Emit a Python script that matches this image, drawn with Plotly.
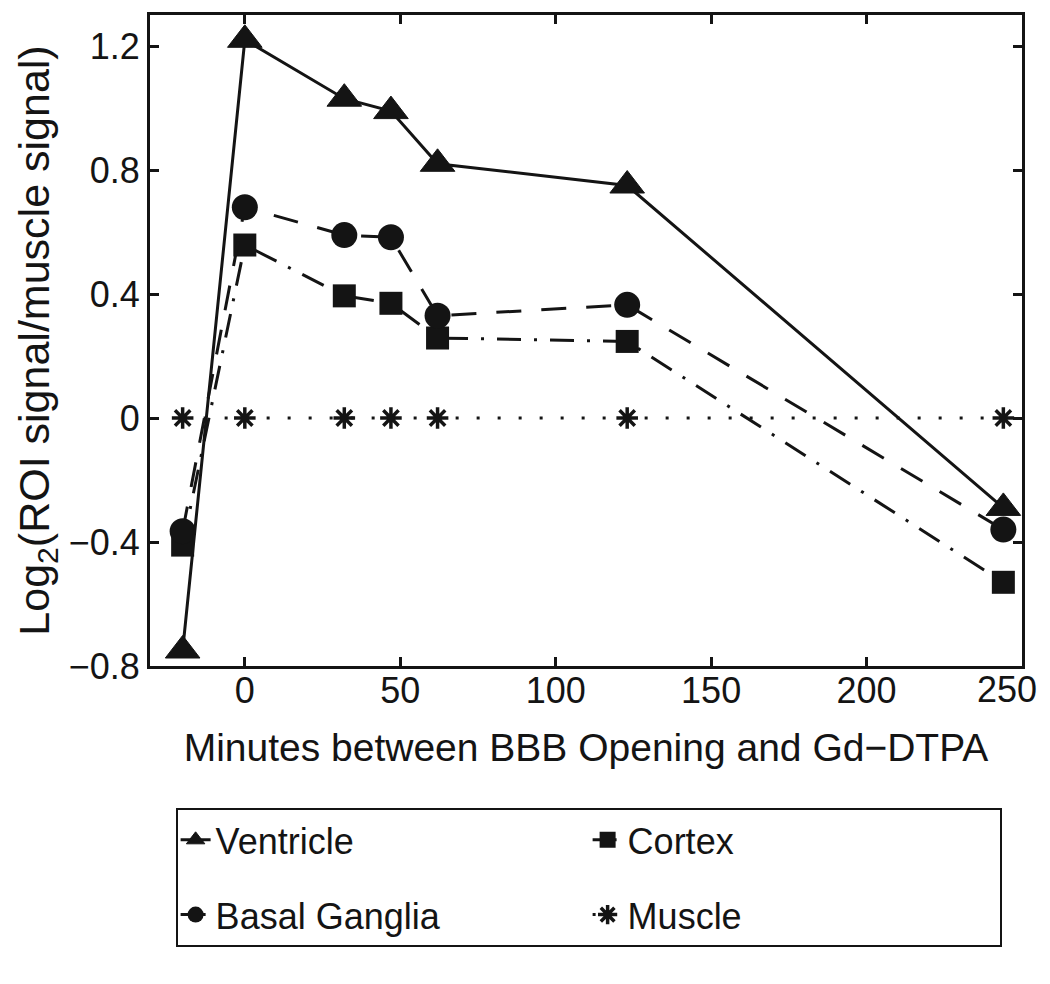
import plotly.graph_objects as go

minutes = [-20, 0, 32, 47, 62, 123, 244]
ventricle = [-0.75, 1.22, 1.03, 0.99, 0.82, 0.75, -0.29]
basal_ganglia = [-0.365, 0.68, 0.59, 0.583, 0.33, 0.365, -0.36]
cortex = [-0.41, 0.558, 0.394, 0.37, 0.258, 0.247, -0.53]
muscle = [0, 0, 0, 0, 0, 0, 0]

x_ticks = [0, 50, 100, 150, 200, 250]
x_tick_text = ["0", "50", "100", "150", "200", ""]
last_x_tick_label = "250"
y_ticks = [-0.8, -0.4, 0, 0.4, 0.8, 1.2]

INK = "#141414"
FONT = "Liberation Sans, Arial, Helvetica, sans-serif"

fig = go.Figure()

fig.add_trace(go.Scatter(
    x=minutes, y=muscle, name="Muscle", mode="lines+markers",
    legendrank=4, legendgroup="g4",
    line=dict(color=INK, width=3, dash="3px,18px"),
    marker=dict(symbol="asterisk-open", size=18, color=INK, line=dict(color=INK, width=3.5)),
))
fig.add_trace(go.Scatter(
    x=minutes, y=cortex, name="Cortex", mode="lines+markers",
    legendrank=2, legendgroup="g2",
    line=dict(color=INK, width=3, dash="24px,13px,3px,13px"),
    marker=dict(symbol="square", size=23, color=INK),
))
fig.add_trace(go.Scatter(
    x=minutes, y=basal_ganglia, name="Basal Ganglia", mode="lines+markers",
    legendrank=3, legendgroup="g3",
    line=dict(color=INK, width=3, dash="25px,20px"),
    marker=dict(symbol="circle", size=26, color=INK),
))
fig.add_trace(go.Scatter(
    x=minutes, y=ventricle, name="Ventricle", mode="lines+markers",
    legendrank=1, legendgroup="g1",
    line=dict(color=INK, width=3),
    marker=dict(symbol="triangle-up", size=30, color=INK, line=dict(color=INK, width=1)),
))

axis_common = dict(
    showgrid=False, zeroline=False, showline=True, linecolor=INK, linewidth=3,
    mirror="ticks", ticks="inside", ticklen=9, tickwidth=3, tickcolor=INK,
    tickfont=dict(family=FONT, size=36, color=INK), automargin=False,
)

# page body has an 8px margin, so the figure is laid out 8px smaller and offset
fig.update_layout(
    width=1042, height=976,
    margin=dict(l=142, r=28, t=7, b=318),
    paper_bgcolor="white", plot_bgcolor="white",
    font=dict(family=FONT, color=INK),
    xaxis=dict(
        range=[-30.5, 250], tickvals=x_ticks, ticktext=x_tick_text,
        ticklabelstandoff=-9, **axis_common,
        title=dict(text="Minutes between BBB Opening and Gd\u2212DTPA",
                   font=dict(family=FONT, size=39, color=INK), standoff=24),
    ),
    yaxis=dict(
        range=[-0.8, 1.3], tickvals=y_ticks, **axis_common,
        title=dict(text="Log<sub>2</sub>(ROI signal/muscle signal)",
                   font=dict(family=FONT, size=43, color=INK), standoff=6),
    ),
    legend=dict(
        orientation="h", x=0.503, xanchor="center", y=-0.218, yanchor="top",
        bordercolor=INK, borderwidth=2, bgcolor="white",
        font=dict(family=FONT, size=36, color=INK),
        entrywidth=367, entrywidthmode="pixels", traceorder="grouped",
        tracegroupgap=25, itemsizing="trace",
    ),
    showlegend=True,
)

fig.add_annotation(
    x=x_ticks[-1], xref="x", y=0, yref="paper", yanchor="top",
    text=last_x_tick_label, showarrow=False, xshift=-15, yshift=-1,
    font=dict(family=FONT, size=36, color=INK),
)

fig.write_html("out.html")
